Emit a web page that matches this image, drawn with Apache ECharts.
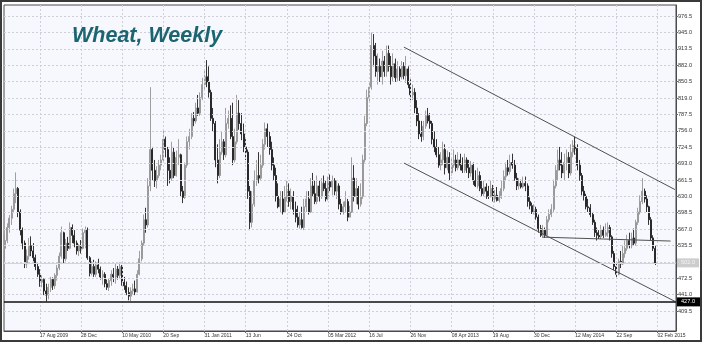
<!DOCTYPE html>
<html><head><meta charset="utf-8">
<script src="https://cdn.jsdelivr.net/npm/echarts@6/dist/echarts.min.js"></script>
<style>html,body{margin:0;padding:0;background:#fff}#c{width:702px;height:342px}</style>
</head><body><div id="c"></div>
<script>
// ---- data ----
const startWeekUTC = Date.UTC(2009, 3, 27);   // first weekly bar: 27 Apr 2009
const weekCount = 310;                          // categories incl. empty weeks at right
const xTickDates = ['2009-08-17','2009-12-28','2010-05-10','2010-09-20','2011-01-31','2011-06-13','2011-10-24','2012-03-05','2012-07-16','2012-11-26','2013-04-08','2013-08-19','2013-12-30','2014-05-12','2014-09-22','2015-02-02'];
const xTickLabels = ['17 Aug 2009','28 Dec','10 May 2010','20 Sep','31 Jan 2011','13 Jun','24 Oct','05 Mar 2012','16 Jul','26 Nov','08 Apr 2013','19 Aug','30 Dec','12 May 2014','22 Sep','02 Feb 2015'];
const yTickValues = [409.5,441,472.5,504,535.5,567,598.5,630,661.5,693,724.5,756,787.5,819,850.5,882,913.5,945,976.5];
// weekly bars: [open, close, low, high]
const ohlc = [
[530,545,508,556],[545,570,540,578],[570,588,560,594],[588,605,575,612],[605,635,600,645],
[635,645,617,676],[645,600,590,648],[600,565,555,605],[565,540,528,570],[540,500,492,545],
[500,515,492,528],[515,535,508,550],[535,525,515,553],[525,512,505,540],[512,495,488,518],
[495,480,475,503],[480,465,456,490],[465,470,455,478],[470,448,440,472],[448,440,428,462],
[440,455,432,462],[455,470,446,475],[470,458,450,474],[458,478,452,482],[478,492,468,498],
[492,515,488,522],[515,560,510,572],[560,510,500,562],[510,540,505,548],[540,530,525,552],
[530,570,528,580],[570,555,540,576],[555,540,532,565],[540,525,518,545],[525,535,515,538],
[535,530,520,546],[530,560,528,568],[560,565,530,572],[565,512,508,570],[512,482,476,515],
[482,495,478,505],[495,480,475,508],[480,498,475,505],[498,490,482,510],[490,475,470,495],
[475,480,460,488],[480,462,455,484],[462,455,450,470],[455,468,448,472],[468,480,458,488],
[480,475,465,492],[475,490,462,500],[490,478,470,496],[478,495,472,503],[495,465,458,498],
[465,458,450,475],[458,445,440,466],[445,438,430,455],[438,448,428,455],[448,452,442,462],
[452,446,440,468],[446,480,445,488],[480,510,478,525],[510,540,505,545],[540,585,535,595],
[585,575,560,608],[575,650,570,665],[650,720,640,840],[720,680,660,725],[680,660,648,700],
[660,670,645,688],[670,690,665,700],[690,700,680,710],[700,740,695,757],[740,720,705,745],
[720,680,650,725],[680,665,655,705],[665,715,660,735],[715,670,665,725],[670,705,668,718],
[705,710,690,740],[710,640,630,712],[640,628,617,650],[628,690,625,695],[690,735,685,745],
[735,745,720,760],[745,780,740,790],[780,775,765,792],[775,800,770,810],[800,790,785,825],
[790,820,785,830],[820,845,815,858],[845,860,835,875],[860,850,840,892],[850,830,820,880],
[830,780,775,835],[780,770,755,800],[770,700,686,775],[700,670,655,730],[670,715,665,740],
[715,735,710,755],[735,710,700,740],[710,770,705,800],[770,780,760,795],[780,745,740,805],
[745,700,690,810],[700,735,695,760],[735,790,730,825],[790,770,758,815],[770,750,738,790],
[750,725,715,770],[725,715,700,740],[715,640,625,720],[640,580,565,650],[580,615,570,640],
[615,660,610,680],[660,670,650,700],[670,665,655,715],[665,690,660,710],[690,730,685,740],
[730,760,720,772],[760,745,725,770],[745,720,710,755],[720,690,680,735],[690,670,660,705],
[670,630,620,685],[630,610,607,655],[610,625,600,640],[625,600,595,640],[600,630,598,650],
[630,640,620,660],[640,620,610,655],[620,630,605,645],[630,605,595,640],[605,590,580,620],
[590,575,570,612],[575,585,568,600],[585,570,568,610],[570,610,565,625],[610,625,600,640],
[625,600,595,640],[600,650,598,665],[650,635,630,675],[635,620,615,660],[620,650,615,670],
[650,630,620,660],[630,655,625,665],[655,645,640,670],[645,625,620,660],[625,658,622,668],
[658,648,640,672],[648,660,632,670],[660,640,632,665],[640,650,625,660],[650,615,605,655],
[615,600,595,625],[600,610,595,620],[610,620,600,640],[620,590,582,625],[590,600,590,612],
[600,665,598,705],[665,630,620,690],[630,645,615,665],[645,615,605,650],[615,630,610,655],
[630,700,625,710],[700,770,695,785],[770,820,765,835],[820,840,810,850],[840,920,835,945],
[920,900,880,942],[900,870,860,925],[870,880,845,905],[880,860,850,895],[860,890,845,910],
[890,870,860,900],[870,905,860,920],[905,880,870,920],[880,860,845,900],[860,885,850,905],
[885,858,850,895],[858,875,852,890],[875,860,852,880],[860,880,855,890],[880,862,855,888],
[862,875,848,900],[875,845,838,880],[845,825,815,855],[825,830,815,845],[830,800,790,838],
[800,775,765,815],[775,750,740,790],[750,745,735,775],[745,765,738,775],[765,785,760,795],
[785,775,770,800],[775,770,760,790],[770,740,730,775],[740,725,715,755],[725,710,705,740],
[710,690,685,725],[690,700,680,715],[700,720,690,735],[720,685,672,730],[685,705,680,718],
[705,675,660,715],[675,690,670,705],[690,700,685,720],[700,685,678,710],[685,700,680,715],
[700,690,680,712],[690,680,675,705],[680,700,675,712],[700,685,675,705],[685,675,665,700],
[675,690,668,698],[690,660,652,695],[660,650,648,680],[650,670,645,685],[670,645,640,678],
[645,635,630,660],[635,648,630,660],[648,640,625,655],[640,630,625,650],[630,645,628,660],
[645,625,620,652],[625,632,618,642],[632,622,620,648],[622,628,618,640],[628,645,625,660],
[645,668,640,680],[668,685,660,695],[685,678,670,700],[678,695,672,710],[695,690,683,712],
[690,665,660,700],[665,650,642,675],[650,655,643,665],[655,648,645,662],[648,655,645,668],
[655,650,640,668],[650,620,610,655],[620,612,605,628],[612,600,596,618],[600,605,595,615],
[605,590,585,610],[590,568,560,595],[568,555,552,575],[555,565,550,575],[565,555,550,570],
[555,585,552,592],[585,595,580,605],[595,605,590,615],[605,650,600,662],[650,680,645,690],
[680,700,660,720],[700,690,680,725],[690,675,665,715],[675,695,660,712],[695,705,680,720],
[705,675,665,715],[675,715,670,730],[715,728,705,738],[728,722,710,745],[722,690,680,730],
[690,670,660,700],[670,640,632,675],[640,630,622,650],[630,610,605,635],[610,608,600,625],
[608,595,590,615],[595,580,575,600],[580,560,552,585],[560,555,545,570],[555,552,548,565],
[552,565,548,575],[565,555,550,572],[555,560,552,578],[560,570,552,580],[570,552,545,575],
[552,520,512,555],[520,495,488,525],[495,480,475,500],[480,505,478,510],[505,500,492,525],
[500,520,498,535],[520,530,512,545],[530,545,525,556],[545,535,530,560],[535,550,530,560],
[550,540,535,568],[540,580,535,585],[580,600,575,608],[600,620,595,632],[620,640,615,665],
[640,625,618,645],[625,610,600,632],[610,585,575,612],[585,550,545,590],[550,530,525,555],
[530,502,498,535]
];
// drawn reference lines: [startWeekIndex, startPrice, endWeekIndex, endPrice]
const channelUpper = [184, 917, 309, 643];
const channelLower = [184, 694, 309, 428];
const supportLine  = [248, 551.5, 307, 544];
const levelLine = 427;

// ---- build ----
const categories = [];
for (let i = 0; i < weekCount; i++) {
  categories.push(new Date(startWeekUTC + i * 7 * 864e5).toISOString().slice(0, 10));
}
const tickMap = {};
xTickDates.forEach((d, k) => { tickMap[d] = xTickLabels[k]; });
const isTick = (idx) => tickMap[categories[idx]] !== undefined;
const lastClose = ohlc[ohlc.length - 1][1];
const FONT = 'Liberation Sans, Arial, sans-serif';
const trendLine = a => [
  {coord: [a[0], a[1]], lineStyle: {color: '#505050', width: 1, type: 'solid'}, label: {show: false}},
  {coord: [a[2], a[3]]}
];
const gridMarks = []
  .concat(xTickDates.map(d => ({xAxis: d})))
  .concat(yTickValues.map(v => ({yAxis: v})));

const chart = echarts.init(document.getElementById('c'), null, {renderer: 'canvas'});
chart.setOption({
  animation: false,
  backgroundColor: '#ffffff',
  grid: {left: 4, right: 26, top: 5, bottom: 11, show: true, backgroundColor: '#f7f8fd', borderColor: '#4a4a4a', borderWidth: 1},
  xAxis: {
    type: 'category', data: categories, boundaryGap: true,
    axisLine: {show: true, lineStyle: {color: '#4a4a4a'}},
    axisTick: {show: true, interval: isTick, alignWithLabel: true, length: 2, lineStyle: {color: '#666'}},
    axisLabel: {interval: isTick, formatter: v => tickMap[v] || '', align: 'left', margin: 2,
      fontSize: 5, color: '#333', fontFamily: FONT},
    splitLine: {show: false}
  },
  yAxis: {
    type: 'value', position: 'right', min: 371, max: 998, scale: true,
    axisLine: {show: true, lineStyle: {color: '#4a4a4a'}},
    axisTick: {show: true, customValues: yTickValues, length: 2, lineStyle: {color: '#666'}},
    axisLabel: {customValues: yTickValues, formatter: v => v.toFixed(1), margin: 2,
      fontSize: 5.6, color: '#333', fontFamily: FONT},
    splitLine: {show: false}
  },
  series: [{
    type: 'line', data: [], z: 1, silent: true,
    markLine: {
      silent: true, symbol: ['none', 'none'], label: {show: false},
      lineStyle: {color: '#cdced8', type: [2, 2], width: 1},
      data: gridMarks
    }
  }, {
    type: 'candlestick', data: ohlc, barWidth: 1.5, z: 3,
    itemStyle: {color: '#959595', color0: '#1e1e1e', borderColor: '#959595', borderColor0: '#1e1e1e', borderWidth: 0.9},
    markLine: {
      silent: true, symbol: ['none', 'none'],
      data: [
        trendLine(channelUpper),
        trendLine(channelLower),
        trendLine(supportLine),
        {yAxis: lastClose, lineStyle: {color: '#d4d4d4', width: 1, type: 'solid'},
          label: {show: true, position: 'end', distance: 1, formatter: p => p.value.toFixed(1), fontSize: 5.6,
            color: '#f4f4f4', backgroundColor: '#cdcdcd', padding: [2, 4, 1, 4], fontFamily: FONT}},
        {yAxis: levelLine, lineStyle: {color: '#111', width: 1.5, type: 'solid'},
          label: {show: true, position: 'end', distance: 1, formatter: p => p.value.toFixed(1), fontSize: 5.6,
            color: '#ffffff', backgroundColor: '#000000', padding: [2, 5, 1, 4], fontFamily: FONT}}
      ]
    }
  }],
  graphic: [
    {type: 'text', left: 72, top: 25, z: 100,
      style: {text: 'Wheat, Weekly', font: 'italic bold 21.5px "Liberation Sans", Arial, sans-serif', fill: '#1b6470'}},
    {type: 'rect', z: 100, shape: {x: 1, y: 1, width: 700, height: 340},
      style: {fill: 'none', stroke: '#3a3a3a', lineWidth: 2}}
  ]
});
</script></body></html>
